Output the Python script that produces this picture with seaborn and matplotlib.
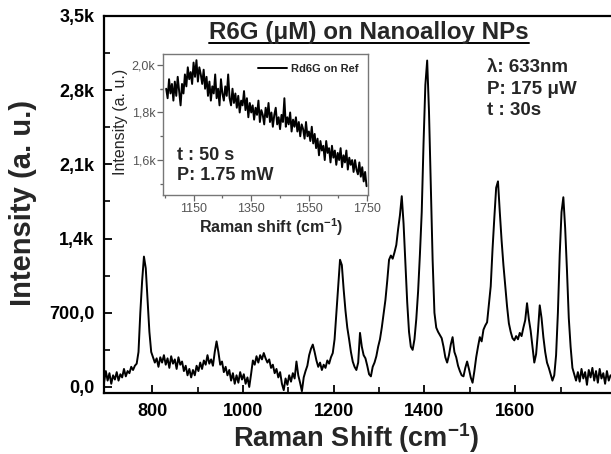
import numpy as np
import pandas as pd
import matplotlib
matplotlib.use("Agg")
import matplotlib.pyplot as plt
from matplotlib.lines import Line2D
from matplotlib.ticker import FixedLocator, FixedFormatter
import seaborn as sns

# ---------------- data ----------------
main_start, main_step = 694, 4
main_intensity = [
    40, 150, 60, 130, 30, 110, 70, 140, 60, 120,          # 694
    90, 170, 100, 150, 130, 190, 160, 200, 220, 330,      # 734
    700, 1000, 1230, 1120, 820, 520, 330, 280, 230, 270,  # 774
    190, 280, 230, 300, 210, 270, 180, 290, 220, 260,     # 814
    170, 280, 210, 240, 150, 200, 110, 170, 90, 160,      # 854
    110, 200, 150, 230, 170, 250, 210, 300, 220, 260,     # 894
    200, 330, 430, 330, 210, 240, 140, 190, 110, 160,     # 934
    60, 130, 30, 110, 40, 140, 70, 120, 30, 90,           # 974
    0, 120, 250, 210, 290, 230, 300, 260, 320, 270,       # 1014
    230, 260, 180, 210, 130, 170, 90, 140, 30, -30,       # 1054
    80, 20, 110, 50, 130, 80, 240, 110, 40, -40,          # 1094
    90, 150, 200, 300, 360, 400, 330, 250, 190, 230,      # 1134
    160, 210, 180, 250, 220, 280, 320, 450, 700, 950,     # 1174
    1200, 1150, 920, 720, 560, 450, 330, 240, 190, 160,   # 1214
    230, 510, 380, 300, 270, 200, 120, 100, 190, 230,     # 1254
    290, 380, 450, 560, 690, 820, 1000, 1200, 1240, 1210, # 1294
    1270, 1340, 1490, 1620, 1800, 1540, 1180, 800, 520, 380,  # 1334
    350, 450, 640, 900, 1250, 1650, 2300, 2850, 3080, 2600,   # 1374
    1900, 1200, 700, 560, 520, 490, 460, 380, 280, 230,   # 1414
    300, 400, 470, 330, 280, 200, 150, 110, 100, 180,     # 1454
    240, 170, 90, 40, 150, 280, 380, 470, 430, 540,       # 1494
    580, 610, 780, 950, 1300, 1600, 1880, 1940, 1650, 1380,   # 1534
    1150, 950, 760, 600, 520, 460, 440, 480, 450, 510,    # 1574
    480, 560, 630, 790, 640, 530, 380, 230, 310, 520,     # 1614
    770, 650, 470, 330, 230, 180, 120, 60, 110, 300,      # 1654
    700, 1250, 1650, 1790, 1500, 1100, 650, 380, 180, 120,    # 1694
    60, 140, 50, 170, 80, 140, 20, 160, 90, 180,          # 1734
    60, 150, 40, 170, 80, 130, 30, 150, 60, 110,          # 1774
]

inset_start, inset_step = 1055, 5
inset_intensity = [
    1900, 1860, 1940, 1880, 1920, 1850, 1930, 1870, 1950, 1890,  # 1055
    1830, 1920, 1880, 1960, 1910, 1990, 1940, 1970, 1920, 2010,  # 1105
    1950, 2020, 1930, 1990, 1960, 1920, 1980, 1900, 1950, 1870,  # 1155
    1930, 1850, 1910, 1880, 1960, 1860, 1900, 1830, 1940, 1880,  # 1205
    1850, 1910, 1870, 1960, 1860, 1830, 1900, 1840, 1880, 1820,  # 1255
    1870, 1800, 1850, 1830, 1890, 1810, 1860, 1780, 1840, 1800,  # 1305
    1830, 1770, 1820, 1790, 1850, 1760, 1810, 1790, 1750, 1820,  # 1355
    1780, 1840, 1760, 1800, 1740, 1790, 1820, 1750, 1780, 1730,  # 1405
    1790, 1760, 1860, 1740, 1780, 1750, 1800, 1720, 1770, 1740,  # 1455
    1780, 1720, 1760, 1700, 1750, 1730, 1690, 1760, 1700, 1720,  # 1505
    1680, 1740, 1670, 1710, 1650, 1690, 1620, 1680, 1640, 1660,  # 1555
    1600, 1680, 1630, 1650, 1590, 1660, 1610, 1640, 1580, 1630,  # 1605
    1600, 1650, 1570, 1620, 1590, 1640, 1560, 1610, 1580, 1600,  # 1655
    1550, 1600, 1560, 1540, 1590, 1530, 1570, 1510, 1550, 1490,  # 1705
]

main_xticks = [800, 1000, 1200, 1400, 1600]
main_yticks = [0, 700, 1400, 2100, 2800, 3500]
main_yticklabels = ["0,0", "700,0", "1,4k", "2,1k", "2,8k", "3,5k"]
inset_xticks = [1150, 1350, 1550, 1750]
inset_yticks = [1600, 1800, 2000]
inset_yticklabels = ["1,6k", "1,8k", "2,0k"]

main_df = pd.DataFrame({
    "shift": main_start + main_step * np.arange(len(main_intensity)),
    "intensity": main_intensity,
})
inset_df = pd.DataFrame({
    "shift": inset_start + inset_step * np.arange(len(inset_intensity)),
    "intensity": inset_intensity,
})

# ---------------- style ----------------
sns.set_style("ticks")
plt.rcParams["font.family"] = ["Liberation Sans", "DejaVu Sans"]
plt.rcParams["mathtext.fontset"] = "custom"
plt.rcParams["mathtext.rm"] = "Liberation Sans"
plt.rcParams["mathtext.bf"] = "Liberation Sans:bold"
plt.rcParams["mathtext.default"] = "bf"

W, H = 611, 454
fig = plt.figure(figsize=(W / 100, H / 100), dpi=100)

def fx(px):
    return px / W

def fy(py):
    return 1 - py / H

# ---------------- main axes ----------------
ax = fig.add_axes([fx(104), fy(393), fx(611) - fx(104), fy(16) - fy(393)])
sns.lineplot(data=main_df, x="shift", y="intensity", ax=ax, color="black",
             linewidth=1.4, estimator=None, sort=False)
ax.set_xlim(694, 1811)
ax.set_ylim(-57, 3500)
ax.xaxis.set_major_locator(FixedLocator(main_xticks))
ax.xaxis.set_minor_locator(FixedLocator([t + 100 for t in main_xticks]))
ax.yaxis.set_major_locator(FixedLocator(main_yticks))
ax.yaxis.set_minor_locator(FixedLocator([t + 350 for t in main_yticks[:-1]]))
ax.yaxis.set_major_formatter(FixedFormatter(main_yticklabels))
ax.tick_params(which="major", direction="in", length=6, width=1.3, labelsize=13, pad=7,
               color="black", labelcolor="black")
ax.tick_params(which="minor", direction="in", length=4, width=1.2, color="black")
for lab in ax.get_xticklabels() + ax.get_yticklabels():
    lab.set_fontweight("bold")
for s in ["left", "bottom", "top"]:
    ax.spines[s].set_linewidth(1.6)
    ax.spines[s].set_color("black")
ax.spines["right"].set_visible(False)

ax.set_xlabel(r"Raman Shift (cm$^{\mathbf{-1}}$)", fontsize=19.5, fontweight="bold")
ax.set_ylabel("Intensity (a. u.)", fontsize=21, fontweight="bold")
ax.xaxis.set_label_coords(0.497, -0.075)
ax.yaxis.set_label_coords(-0.132, 0.504)

# annotations
title = fig.text(fx(369), fy(39), "R6G (\u03bcM) on Nanoalloy NPs", fontsize=17.4,
                 fontweight="bold", ha="center", va="baseline")
fig.text(fx(487), fy(72), "\u03bb: 633nm", fontsize=13.5, fontweight="bold", va="baseline")
fig.text(fx(487), fy(94), "P: 175 \u03bcW", fontsize=13.5, fontweight="bold", va="baseline")
fig.text(fx(487), fy(115), "t : 30s", fontsize=13.5, fontweight="bold", va="baseline")

# ---------------- inset ----------------
axi = fig.add_axes([fx(163), fy(195), fx(368) - fx(163), fy(54) - fy(195)])
sns.lineplot(data=inset_df, x="shift", y="intensity", ax=axi, color="black",
             linewidth=1.4, estimator=None, sort=False, label="Rd6G on Ref")
axi.set_xlim(1044, 1755)
axi.set_ylim(1453, 2046)
axi.xaxis.set_major_locator(FixedLocator(inset_xticks))
axi.xaxis.set_minor_locator(FixedLocator([t - 100 for t in inset_xticks]))
axi.yaxis.set_major_locator(FixedLocator(inset_yticks))
axi.yaxis.set_minor_locator(FixedLocator([t - 100 for t in inset_yticks] + [1900 + 100 * 0]))
axi.yaxis.set_major_formatter(FixedFormatter(inset_yticklabels))
axi.tick_params(which="major", direction="out", length=4, width=0.9, labelsize=9,
                pad=1.5, color="#666666", labelcolor="#555555")
axi.tick_params(which="minor", direction="out", length=2.5, width=0.9, color="#666666")
for s in axi.spines.values():
    s.set_linewidth(1.0)
    s.set_color("#777777")
axi.set_xlabel(r"Raman shift (cm$^{\mathbf{-1}}$)", fontsize=11.5, fontweight="bold")
axi.set_ylabel("Intensity (a. u.)", fontsize=11.5, fontweight="normal")
axi.xaxis.set_label_coords(0.527, -0.15)
axi.yaxis.set_label_coords(-0.17, 0.52)
leg = axi.legend(loc="upper right", frameon=False, handlelength=2.6, handletextpad=0.3,
                 borderaxespad=0.5, prop={"weight": "bold", "size": 8})
axi.text(0.07, 0.25, "t : 50 s", transform=axi.transAxes, fontsize=13,
         fontweight="bold", va="baseline")
axi.text(0.07, 0.105, "P: 1.75 mW", transform=axi.transAxes, fontsize=13,
         fontweight="bold", va="baseline")

# underline the title
fig.canvas.draw()
bb = title.get_window_extent()
fig.add_artist(Line2D([bb.x0 / W, bb.x1 / W], [fy(42.5), fy(42.5)],
                      transform=fig.transFigure, color="black", linewidth=1.4))

fig.savefig("out.png", dpi=100)
